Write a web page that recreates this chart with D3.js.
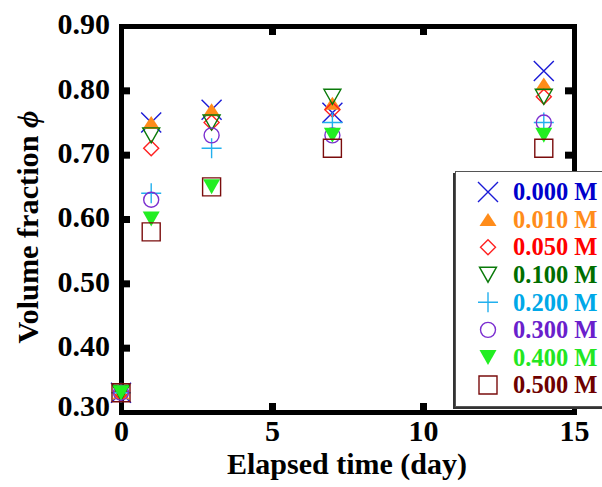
<!DOCTYPE html>
<html>
<head>
<meta charset="utf-8">
<script src="https://cdn.jsdelivr.net/npm/d3@7"></script>
<style>
  html, body { margin: 0; padding: 0; background: #fff; }
  svg { display: block; font-family: "Liberation Serif", "Times New Roman", serif; font-weight: bold; }
</style>
</head>
<body>
<svg id="chart" width="602" height="487"></svg>
<script>
// Elapsed time (days) at which volume fraction was measured
const days = [0, 1, 3, 7, 14];

// Concentration labels for each series
const concentrations = ["0.000 M", "0.010 M", "0.050 M", "0.100 M", "0.200 M", "0.300 M", "0.400 M", "0.500 M"];

// Volume fraction per series (one value per day)
const phi000 = [0.33, 0.75, 0.77, 0.765, 0.83];
const phi010 = [0.33, 0.75, 0.77, 0.78, 0.81];
const phi050 = [0.33, 0.71, 0.75, 0.77, 0.79];
const phi100 = [0.33, 0.73, 0.75, 0.79, 0.79];
const phi200 = [0.33, 0.64, 0.71, 0.75, 0.75];
const phi300 = [0.33, 0.63, 0.73, 0.73, 0.75];
const phi400 = [0.33, 0.60, 0.65, 0.73, 0.73];
const phi500 = [0.33, 0.58, 0.65, 0.71, 0.71];

// Axis ticks
const xTicks = [0, 5, 10, 15];
const yTicks = [0.30, 0.40, 0.50, 0.60, 0.70, 0.80, 0.90];

const seriesValues = [phi000, phi010, phi050, phi100, phi200, phi300, phi400, phi500];
const colors = ["#1a1ad6", "#ff8c1a", "#ff2020", "#0a7a0a", "#22b0ee", "#7b2fd0", "#22ee22", "#7a0c0c"];
const textColors = ["#0000cc", "#ff8c1a", "#ff0000", "#006e00", "#00a8e8", "#6a1fcc", "#22e622", "#6e0000"];
const markers = ["cross", "triUp", "diamond", "triDown", "plus", "circle", "triDownFill", "square"];

// Marker outlines, centred on their bounding box
const markerPath = {
  cross: () => "M-10,-10L10,10M-10,10L10,-10",
  triUp: () => "M0,-6.5L8.5,6.5L-8.5,6.5Z",
  diamond: () => "M0,-7.5L7.5,0L0,7.5L-7.5,0Z",
  triDown: () => "M-8.5,-7.5L8.5,-7.5L0,7.5Z",
  plus: () => "M-10,0L10,0M0,-10L0,10",
  circle: () => "M7.5,0A7.5,7.5 0 1,1 -7.5,0A7.5,7.5 0 1,1 7.5,0Z",
  triDownFill: () => "M-8.5,-7.5L8.5,-7.5L0,7.5Z",
  square: () => "M-9,-9L9,-9L9,9L-9,9Z"
};
const filled = { triUp: true, triDownFill: true };

const svg = d3.select("#chart");

const x = d3.scaleLinear().domain([0, 15]).range([121, 574]);
const y = d3.scaleLinear().domain([0.30, 0.90]).range([412, 26]);

const axisFont = "30px";

// Frame: four thick axes with inward ticks
function styleAxis(g) {
  g.select(".domain").attr("stroke", "#000").attr("stroke-width", 5).attr("stroke-linecap", "square");
  g.selectAll(".tick line").attr("stroke", "#000").attr("stroke-width", 7);
}

const gxB = svg.append("g").attr("transform", `translate(0,${y(0.30)})`)
  .call(d3.axisBottom(x).tickValues(xTicks).tickSizeInner(-9).tickSizeOuter(0).tickPadding(8).tickFormat(d3.format("d")));
styleAxis(gxB);
gxB.selectAll(".tick text").attr("font-size", axisFont).attr("fill", "#000").attr("font-family", "Liberation Serif").attr("font-weight", "bold");

const gxT = svg.append("g").attr("transform", `translate(0,${y(0.90)})`)
  .call(d3.axisTop(x).tickValues(xTicks).tickSizeInner(-9).tickSizeOuter(0).tickFormat(""));
styleAxis(gxT);

const gyL = svg.append("g").attr("transform", `translate(${x(0)},0)`)
  .call(d3.axisLeft(y).tickValues(yTicks).tickSizeInner(-9).tickSizeOuter(0).tickPadding(11).tickFormat(d3.format(".2f")));
styleAxis(gyL);
gyL.selectAll(".tick text").attr("font-size", axisFont).attr("fill", "#000").attr("font-family", "Liberation Serif").attr("font-weight", "bold")
  .attr("dy", d => d === 0.30 ? "0.1em" : "0.26em");

const gyR = svg.append("g").attr("transform", `translate(${x(15)},0)`)
  .call(d3.axisRight(y).tickValues(yTicks).tickSizeInner(-9).tickSizeOuter(0).tickFormat(""));
styleAxis(gyR);

// Drop the tick marks that would sit on the frame corners
[gxB, gxT].forEach(g => g.selectAll(".tick").filter(d => d === 0 || d === 15).select("line").remove());
[gyL, gyR].forEach(g => g.selectAll(".tick").filter(d => d === 0.30 || d === 0.90).select("line").remove());

// Axis titles
svg.append("text")
  .attr("x", 347).attr("y", 474)
  .attr("text-anchor", "middle")
  .attr("font-size", "30px")
  .text("Elapsed time (day)");

const yTitle = svg.append("text")
  .attr("transform", `translate(38,227) rotate(-90)`)
  .attr("text-anchor", "middle")
  .attr("font-size", "29px")
  .attr("textLength", 233)
  .attr("lengthAdjust", "spacingAndGlyphs");
yTitle.append("tspan").text("Volume fraction ");
yTitle.append("tspan").attr("font-style", "italic").text("\u03D5");

// Data markers, drawn in series order
const plot = svg.append("g");
seriesValues.forEach((vals, i) => {
  const m = markers[i];
  plot.append("g").selectAll("path")
    .data(days.map((d, j) => ({ day: d, v: vals[j] })))
    .join("path")
    .attr("transform", d => `translate(${x(d.day)},${y(d.v)})`)
    .attr("d", markerPath[m]())
    .attr("fill", filled[m] ? colors[i] : "none")
    .attr("stroke", filled[m] ? "none" : colors[i])
    .attr("stroke-width", 1.4);
});

// Legend with drop shadow
const lg = svg.append("g");
lg.append("rect").attr("x", 453).attr("y", 173).attr("width", 200).attr("height", 236).attr("fill", "#333");
lg.append("rect").attr("x", 455.5).attr("y", 171.5).attr("width", 200).attr("height", 235)
  .attr("fill", "#fff").attr("stroke", "#555").attr("stroke-width", 1);

const rowY = d3.scaleLinear().domain([0, 7]).range([192, 385]);
concentrations.forEach((label, i) => {
  const m = markers[i];
  lg.append("path")
    .attr("transform", `translate(488,${rowY(i)})`)
    .attr("d", markerPath[m]())
    .attr("fill", filled[m] ? colors[i] : "none")
    .attr("stroke", filled[m] ? "none" : colors[i])
    .attr("stroke-width", 1.4);
  lg.append("text")
    .attr("x", 513).attr("y", rowY(i))
    .attr("dy", "0.34em")
    .attr("font-size", "24.5px")
    .attr("fill", textColors[i])
    .text(label);
});
</script>
</body>
</html>
